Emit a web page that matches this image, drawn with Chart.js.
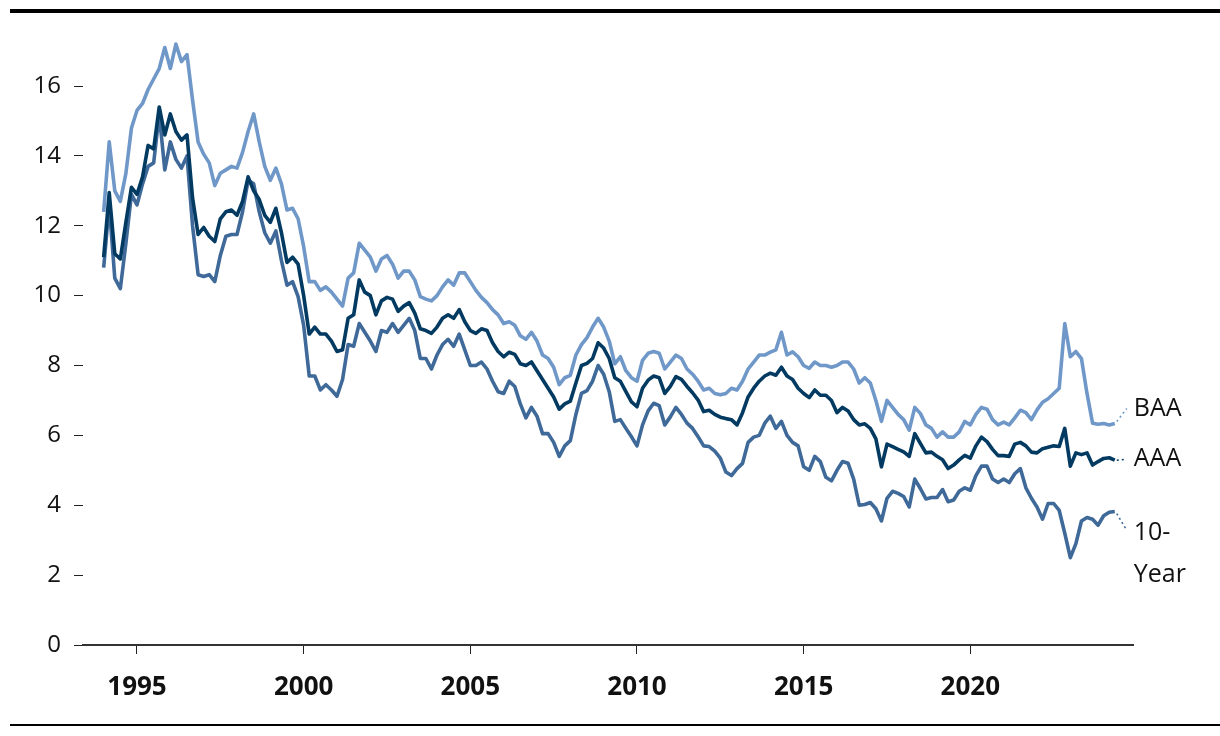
<!DOCTYPE html>
<html>
<head>
<meta charset="utf-8">
<script src="https://cdn.jsdelivr.net/npm/chart.js@4.4.1/dist/chart.umd.min.js"></script>
<style>
  html, body { margin: 0; padding: 0; background: #fff; overflow: hidden; }
  #wrap { position: relative; width: 1220px; height: 736px; }
  #yields { position: absolute; left: 0; top: 0; }
  .rule { position: absolute; left: 10px; right: 0; background: #000; }
  .rule.top { top: 9px; height: 4px; }
  .rule.bottom { top: 724px; height: 2px; }
</style>
</head>
<body>
<div id="wrap">
  <canvas id="yields" width="1220" height="736"></canvas>
  <div class="rule top"></div>
  <div class="rule bottom"></div>
</div>
<script>
// bi-monthly readings, Jan 1994 .. May 2024
var START_YEAR = 1994;
var PER_YEAR = 6;

var baa = [
  12.4, 14.4, 13.0, 12.7, 13.5, 14.8,
  15.3, 15.5, 15.9, 16.2, 16.5, 17.1,
  16.5, 17.2, 16.7, 16.9, 15.6, 14.4,
  14.05, 13.8, 13.15, 13.5, 13.6, 13.7,
  13.65, 14.1, 14.7, 15.2, 14.4, 13.7,
  13.3, 13.65, 13.2, 12.45, 12.5, 12.2,
  11.4, 10.4, 10.4, 10.15, 10.25, 10.1,
  9.9, 9.7, 10.5, 10.65, 11.5, 11.3,
  11.1, 10.7, 11.05, 11.15, 10.9, 10.5,
  10.7, 10.7, 10.45, 9.97, 9.9, 9.85,
  10.0, 10.25, 10.45, 10.3, 10.65, 10.65,
  10.4, 10.15, 9.95, 9.8, 9.6, 9.45,
  9.2, 9.25, 9.15, 8.85, 8.75, 8.95,
  8.7, 8.3, 8.2, 7.95, 7.45, 7.65,
  7.72, 8.3, 8.6, 8.8, 9.1, 9.35,
  9.1, 8.7, 8.05, 8.25, 7.85, 7.65,
  7.55, 8.15, 8.35, 8.4, 8.35, 7.9,
  8.1, 8.3, 8.2, 7.9, 7.75, 7.55,
  7.3, 7.35, 7.2, 7.16, 7.2, 7.35,
  7.3, 7.55, 7.9, 8.1, 8.3, 8.3,
  8.38, 8.45, 8.95, 8.3, 8.39, 8.25,
  8.0, 7.92, 8.1, 8.0, 8.0, 7.95,
  8.0, 8.1, 8.1, 7.9, 7.5, 7.65,
  7.5, 7.0, 6.4, 7.0, 6.8, 6.6,
  6.45, 6.15, 6.8, 6.63, 6.3, 6.2,
  5.95, 6.1, 5.95, 5.95, 6.1, 6.4,
  6.3, 6.6, 6.8, 6.75, 6.45, 6.3,
  6.38, 6.3, 6.5, 6.72, 6.65, 6.45,
  6.73, 6.95, 7.05, 7.2, 7.35, 9.2,
  8.25, 8.4, 8.2, 7.2, 6.35, 6.32,
  6.34, 6.3, 6.34
];

var aaa = [
  11.1, 12.95, 11.2, 11.05, 12.1, 13.1,
  12.9, 13.4, 14.3, 14.2, 15.4, 14.6,
  15.2, 14.7, 14.45, 14.6, 12.8, 11.75,
  11.95, 11.7, 11.55, 12.2, 12.4, 12.45,
  12.3, 12.7, 13.4, 13.0, 12.75, 12.3,
  12.1, 12.5, 11.8, 10.95, 11.1, 10.9,
  10.0, 8.9, 9.1, 8.9, 8.9, 8.7,
  8.4, 8.45, 9.35, 9.45, 10.45, 10.1,
  10.0, 9.45, 9.85, 9.95, 9.9, 9.55,
  9.7, 9.8, 9.5, 9.05, 9.0, 8.92,
  9.1, 9.35, 9.45, 9.35, 9.6, 9.25,
  9.0, 8.92, 9.05, 9.0, 8.65, 8.4,
  8.25, 8.38, 8.32, 8.05, 8.0, 8.1,
  7.85, 7.6, 7.35, 7.1, 6.75, 6.9,
  6.98, 7.5, 8.0, 8.06, 8.2, 8.65,
  8.5, 8.2, 7.65, 7.55, 7.25, 6.96,
  6.82, 7.35, 7.58, 7.7, 7.65, 7.2,
  7.4, 7.68, 7.6, 7.4, 7.22, 7.01,
  6.68, 6.72, 6.6, 6.52, 6.48, 6.45,
  6.3, 6.65, 7.1, 7.35, 7.55, 7.7,
  7.78, 7.72, 7.95, 7.7, 7.6, 7.35,
  7.2, 7.08, 7.3, 7.15, 7.15, 7.0,
  6.65, 6.8, 6.7, 6.45, 6.3, 6.33,
  6.2, 5.9, 5.1, 5.75, 5.68, 5.6,
  5.53, 5.4, 6.05, 5.77, 5.5, 5.52,
  5.4, 5.3, 5.05, 5.15, 5.3, 5.43,
  5.35, 5.7, 5.95, 5.82, 5.6, 5.42,
  5.42, 5.4, 5.75, 5.8, 5.7, 5.52,
  5.5, 5.62, 5.66, 5.7, 5.68, 6.2,
  5.12, 5.5, 5.45, 5.5, 5.15, 5.25,
  5.34, 5.36, 5.29
];

var tenYear = [
  10.8, 12.6, 10.5, 10.2, 11.5, 12.9,
  12.6, 13.2, 13.7, 13.8, 15.2, 13.6,
  14.4, 13.9, 13.65, 14.0, 12.0, 10.6,
  10.55, 10.6, 10.4, 11.15, 11.7, 11.75,
  11.75, 12.4, 13.3, 13.2, 12.4, 11.8,
  11.5, 11.85, 11.0, 10.3, 10.4, 9.97,
  9.15, 7.7, 7.7, 7.3, 7.45, 7.3,
  7.12, 7.6, 8.6, 8.55, 9.2, 8.95,
  8.7, 8.4, 9.0, 8.95, 9.2, 8.95,
  9.15, 9.35, 9.0, 8.2, 8.2, 7.9,
  8.3, 8.6, 8.75, 8.55, 8.9, 8.45,
  8.0, 8.0, 8.1, 7.9, 7.55, 7.25,
  7.2, 7.55, 7.4, 6.9, 6.5, 6.8,
  6.55, 6.05, 6.05, 5.8, 5.4, 5.7,
  5.85, 6.6, 7.2, 7.28, 7.55, 8.0,
  7.75, 7.25, 6.4, 6.45, 6.2, 5.96,
  5.7, 6.3, 6.7, 6.92, 6.85, 6.3,
  6.53, 6.8, 6.6, 6.35, 6.2, 5.96,
  5.7, 5.68, 5.55, 5.35, 4.95, 4.85,
  5.05, 5.2, 5.8, 5.95, 6.0, 6.35,
  6.55, 6.2, 6.4, 6.0, 5.8, 5.7,
  5.1, 5.0, 5.4, 5.25, 4.8, 4.7,
  5.0, 5.25, 5.2, 4.75, 4.0, 4.02,
  4.08, 3.9, 3.55, 4.2, 4.4, 4.34,
  4.25, 3.95, 4.75, 4.48, 4.18, 4.22,
  4.22, 4.45, 4.1, 4.15, 4.4, 4.5,
  4.43, 4.85, 5.12, 5.12, 4.75, 4.65,
  4.75, 4.65, 4.9, 5.05, 4.5, 4.2,
  3.95, 3.6, 4.05, 4.05, 3.85, 3.2,
  2.5, 2.9, 3.55, 3.65, 3.6, 3.43,
  3.7, 3.8, 3.82
];

var yearTicks = [1995, 2000, 2005, 2010, 2015, 2020];
var yTicks = [0, 2, 4, 6, 8, 10, 12, 14, 16];

var COLORS = {
  BAA: '#6f98c9',
  AAA: '#033a61',
  TEN: '#3e6998',
  TEXT: '#111111',
};

var FONT = '"Open Sans", "Noto Sans", sans-serif';

function toPoints(values) {
  return values.map(function (v, i) {
    return { x: START_YEAR + i / PER_YEAR, y: v };
  });
}

function lineSet(label, values, color, lines, dy) {
  return {
    label: label,
    data: toPoints(values),
    borderColor: color,
    borderWidth: 3.6,
    pointRadius: 0,
    tension: 0,
    borderJoinStyle: 'round',
    endLabel: { lines: lines, dy: dy },
  };
}

// dotted leader + name at the end of each line
var endLabels = {
  id: 'endLabels',
  afterDatasetsDraw: function (chart) {
    var ctx = chart.ctx;
    chart.data.datasets.forEach(function (ds, i) {
      var meta = chart.getDatasetMeta(i);
      var last = meta.data[meta.data.length - 1];
      var lab = ds.endLabel;
      var tx = last.x + 19;
      var ty = last.y + lab.dy;
      ctx.save();
      ctx.strokeStyle = ds.borderColor;
      ctx.lineWidth = 1.6;
      ctx.setLineDash([2, 3]);
      ctx.beginPath();
      ctx.moveTo(last.x + 2, last.y + (lab.dy > 0 ? 2 : lab.dy < -3 ? -2 : 0));
      ctx.lineTo(tx - 7, ty - (lab.dy > 0 ? 2 : 0));
      ctx.stroke();
      ctx.setLineDash([]);
      ctx.fillStyle = COLORS.TEXT;
      ctx.font = '25px ' + FONT;
      ctx.textAlign = 'left';
      ctx.textBaseline = 'middle';
      lab.lines.forEach(function (t, k) {
        ctx.fillText(t, tx, ty + k * 42);
      });
      ctx.restore();
    });
  },
};

new Chart(document.getElementById('yields'), {
  type: 'line',
  data: {
    datasets: [
      lineSet('AAA', aaa, COLORS.AAA, ['AAA'], -1),
      lineSet('10-Year', tenYear, COLORS.TEN, ['10-', 'Year'], 21),
      lineSet('BAA', baa, COLORS.BAA, ['BAA'], -15),
    ],
  },
  options: {
    responsive: false,
    animation: false,
    events: [],
    layout: { padding: { top: 33.6, right: 87, left: 0, bottom: 0 } },
    plugins: { legend: { display: false }, tooltip: { enabled: false } },
    scales: {
      x: {
        type: 'linear',
        min: 1993.38,
        max: 2024.88,
        afterFit: function (s) { s.height = 91; },
        afterBuildTicks: function (s) {
          s.ticks = yearTicks.map(function (v) { return { value: v }; });
        },
        border: { display: true, color: '#333333', width: 2 },
        grid: { drawOnChartArea: false, drawTicks: true, tickLength: 9, color: '#222222', lineWidth: 1 },
        ticks: {
          autoSkip: false,
          maxRotation: 0,
          padding: 18,
          color: COLORS.TEXT,
          font: { family: FONT, size: 26, weight: 'bold' },
          callback: function (v) { return String(v); },
        },
      },
      y: {
        min: 0,
        max: 17.5,
        afterFit: function (s) { s.width = 83; },
        afterBuildTicks: function (s) {
          s.ticks = yTicks.map(function (v) { return { value: v }; });
        },
        border: { display: false },
        grid: { drawOnChartArea: false, drawTicks: true, tickLength: 9, color: '#222222', lineWidth: 1 },
        ticks: {
          padding: 13,
          color: COLORS.TEXT,
          font: { family: FONT, size: 24 },
        },
      },
    },
  },
  plugins: [endLabels],
});
</script>
</body>
</html>
